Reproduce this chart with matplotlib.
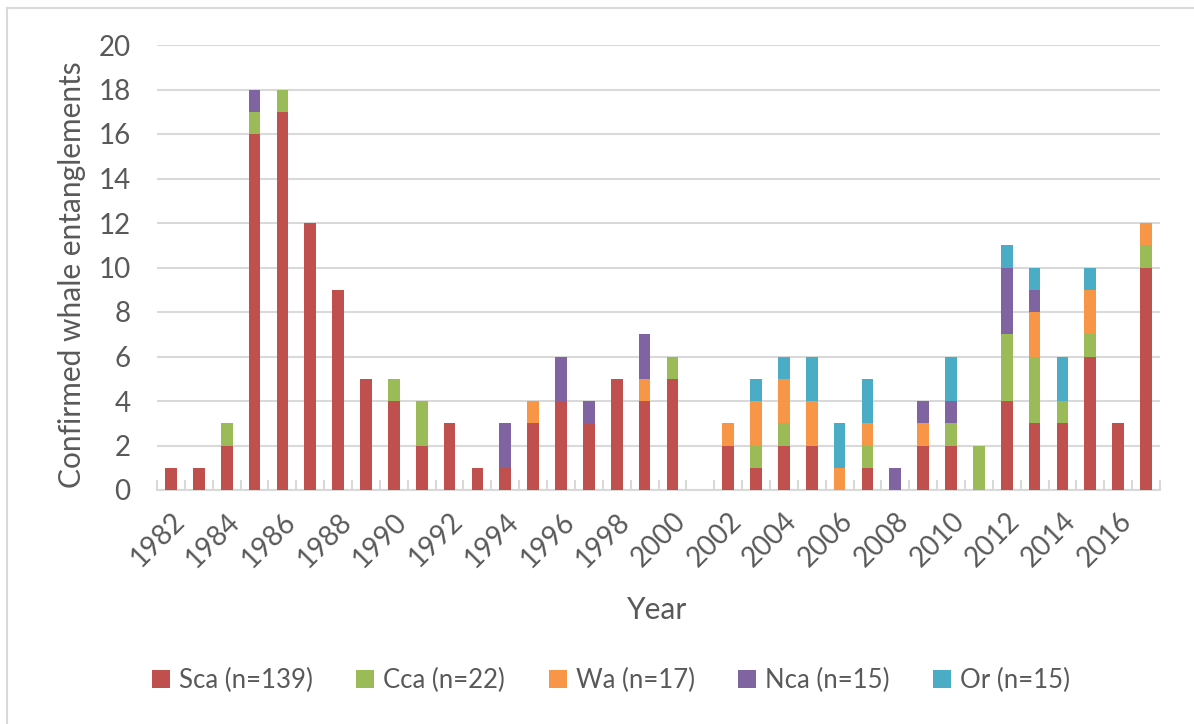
import matplotlib
matplotlib.use("Agg")
import matplotlib.pyplot as plt
from matplotlib.lines import Line2D
import numpy as np

plt.rcParams['font.family'] = ['Lato', 'DejaVu Sans']

years = list(range(1982, 2018))
sca = [1, 1, 2, 16, 17, 12, 9, 5, 4, 2, 3, 1, 1, 3, 4, 3, 5, 4, 5, 0,
       2, 1, 2, 2, 0, 1, 0, 2, 2, 0, 4, 3, 3, 6, 3, 10]
cca = [0, 0, 1, 1, 1, 0, 0, 0, 1, 2, 0, 0, 0, 0, 0, 0, 0, 0, 1, 0,
       0, 1, 1, 0, 0, 1, 0, 0, 1, 2, 3, 3, 1, 1, 0, 1]
wa = [0, 0, 0, 0, 0, 0, 0, 0, 0, 0, 0, 0, 0, 1, 0, 0, 0, 1, 0, 0,
      1, 2, 2, 2, 1, 1, 0, 1, 0, 0, 0, 2, 0, 2, 0, 1]
nca = [0, 0, 0, 1, 0, 0, 0, 0, 0, 0, 0, 0, 2, 0, 2, 1, 0, 2, 0, 0,
       0, 0, 0, 0, 0, 0, 1, 1, 1, 0, 3, 1, 0, 0, 0, 0]
orr = [0, 0, 0, 0, 0, 0, 0, 0, 0, 0, 0, 0, 0, 0, 0, 0, 0, 0, 0, 0,
       0, 1, 1, 2, 2, 2, 0, 0, 2, 0, 1, 1, 2, 1, 0, 0]

series = [("Sca (n=139)", sca, "#C0504D"),
          ("Cca (n=22)", cca, "#9BBB59"),
          ("Wa (n=17)", wa, "#F79646"),
          ("Nca (n=15)", nca, "#8064A2"),
          ("Or (n=15)", orr, "#4BACC6")]

txt = "#595959"
grid = "#D9D9D9"

fig = plt.figure(figsize=(11.94, 7.24), dpi=100)
ax = fig.add_axes([157 / 1194, 1 - 490 / 724, (1160 - 157) / 1194, (490 - 45) / 724])

x = np.arange(len(years))
bottom = np.zeros(len(years))
for name, vals, col in series:
    v = np.array(vals, dtype=float)
    ax.bar(x, v, 0.42, bottom=bottom, color=col, label=name, zorder=3)
    bottom += v

ax.set_xlim(-0.5, len(years) - 0.5)
ax.set_ylim(0, 20)
ax.set_yticks(range(0, 21, 2))
ax.yaxis.grid(True, color=grid, linewidth=1.5, zorder=0)
ax.tick_params(axis='y', length=0, labelsize=20, labelcolor=txt, pad=19)

ax.set_xticks(x[::2])
ax.set_xticklabels([str(y) for y in years[::2]], rotation=45, ha='right',
                   rotation_mode='anchor', fontsize=20, color=txt)
ax.set_xticks(np.arange(-0.5, len(years), 1), minor=True)
ax.tick_params(axis='x', which='major', length=0, pad=13)
ax.tick_params(axis='x', which='minor', direction='in', length=7,
               color=grid, width=1.5)

for s in ['top', 'right', 'left']:
    ax.spines[s].set_visible(False)
ax.spines['bottom'].set_color(grid)
ax.spines['bottom'].set_linewidth(1.5)

fig.text(657 / 1194, 1 - 610 / 724, "Year", ha='center', va='center',
         fontsize=21.5, color=txt)
fig.text(72 / 1194, 1 - 275 / 724, "Confirmed whale entanglements",
         ha='center', va='center', rotation=90, fontsize=21.5, color=txt)

fig.legend(loc='center', bbox_to_anchor=(611 / 1194, 1 - 680 / 724),
           ncol=5, frameon=False, fontsize=18.5, labelcolor=txt,
           handlelength=0.7, handleheight=0.7, handletextpad=0.35,
           columnspacing=1.7)

fig.add_artist(Line2D([7 / 1194, 7 / 1194], [0, 1 - 8 / 724],
                      transform=fig.transFigure, color="#D9D9D9", lw=1.5))
fig.add_artist(Line2D([7 / 1194, 1], [1 - 8 / 724, 1 - 8 / 724],
                      transform=fig.transFigure, color="#D9D9D9", lw=1.5))

fig.savefig("out.png", dpi=100)
